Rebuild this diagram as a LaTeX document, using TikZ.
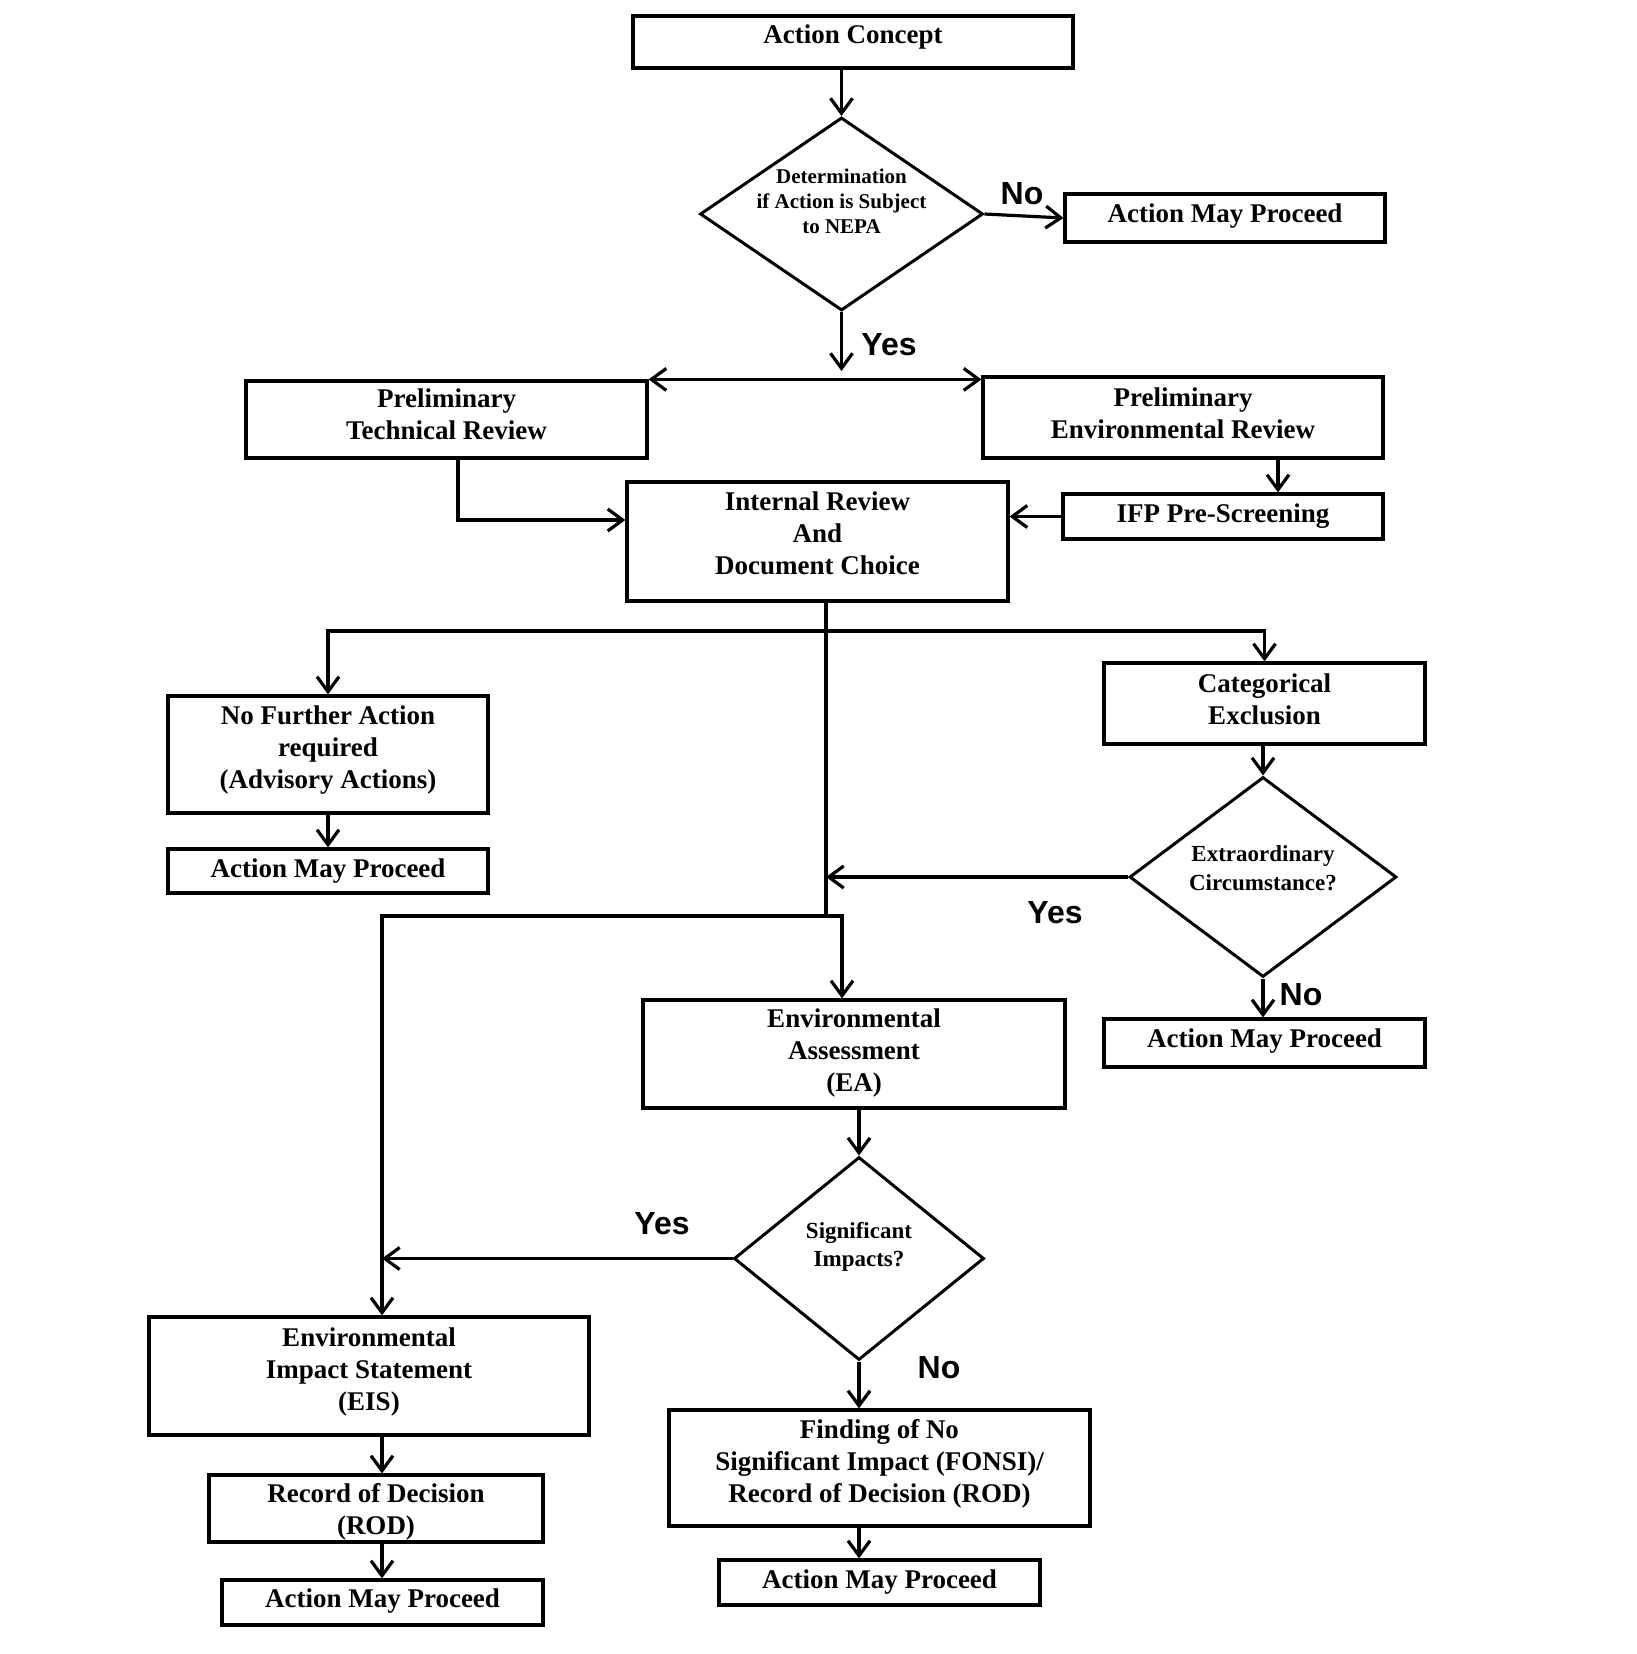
\documentclass[tikz,border=0pt]{standalone}
\usepackage{fontspec}
\setmainfont{Liberation Serif}
\newfontfamily\lsans{Liberation Sans}
\usetikzlibrary{arrows.meta,shapes.geometric}
\begin{document}
\begin{tikzpicture}[x=1pt,y=-1pt,
  line width=3.2pt,
  boxfont/.style={font=\bfseries\fontsize{27}{32}\selectfont},
  bx/.style={draw, inner sep=0pt, line width=3.2pt},
  txt/.style n args={3}{label={[name=#1, boxfont, align=center, yshift=#2]center:{#3}}},
  dia/.style={draw, diamond, inner sep=0pt, line width=3pt},
  lab/.style={font=\lsans\bfseries\fontsize{32}{36}\selectfont},
  arr/.style={-{Straight Barb[length=15pt,width=22pt]}},
  darr/.style={{Straight Barb[length=15pt,width=22pt]}-{Straight Barb[length=15pt,width=22pt]}}
]
\path[fill=white] (0,0) rectangle (1637,1654);
\useasboundingbox (0,0) rectangle (1637,1654);

% nodes
\node[bx, minimum width=440pt, minimum height=52pt, txt={act}{5pt}{Action Concept}] (ac) at (853,42) {};
\node[dia, minimum width=283pt, minimum height=193pt,
  label={[name=d1t, align=center, font=\bfseries\fontsize{21}{25}\selectfont, yshift=13pt]center:{Determination\\if Action is Subject\\to NEPA}}] (d1) at (841.5,214) {};
\node[bx, minimum width=320pt, minimum height=48pt, txt={amp1t}{2pt}{Action May Proceed}] (amp1) at (1225,218) {};
\node[bx, minimum width=401pt, minimum height=77pt, txt={ptrt}{5pt}{Preliminary\\Technical Review}] (ptr) at (446.5,419.5) {};
\node[bx, minimum width=400pt, minimum height=81pt, txt={pert}{4pt}{Preliminary\\Environmental Review}] (per) at (1183,417.5) {};
\node[bx, minimum width=320pt, minimum height=45pt, txt={ifpt}{0pt}{IFP Pre-Screening}] (ifp) at (1223,516.5) {};
\node[bx, minimum width=381pt, minimum height=119pt, txt={irt}{8pt}{Internal Review\\And\\Document Choice}] (ir) at (817.5,541.5) {};
\node[bx, minimum width=320pt, minimum height=117pt, txt={nfat}{4pt}{No Further Action\\required\\(Advisory Actions)}] (nfa) at (328,754.5) {};
\node[bx, minimum width=320pt, minimum height=44pt, txt={amp2t}{0pt}{Action May Proceed}] (amp2) at (328,871) {};
\node[bx, minimum width=321pt, minimum height=81pt, txt={cet}{4pt}{Categorical\\Exclusion}] (ce) at (1264.5,703.5) {};
\node[dia, minimum width=267pt, minimum height=200pt,
  label={[name=d2t, align=center, font=\bfseries\fontsize{23}{29}\selectfont, yshift=9pt]center:{Extraordinary\\Circumstance?}}] (d2) at (1263,877) {};
\node[bx, minimum width=321pt, minimum height=48pt, txt={amp3t}{2pt}{Action May Proceed}] (amp3) at (1264.5,1043) {};
\node[bx, minimum width=422pt, minimum height=108pt, txt={eat}{1pt}{Environmental\\Assessment\\(EA)}] (ea) at (854,1054) {};
\node[dia, minimum width=250pt, minimum height=203pt,
  label={[name=d3t, align=center, font=\bfseries\fontsize{23}{28}\selectfont, yshift=12pt]center:{Significant\\Impacts?}}] (d3) at (859,1258.5) {};
\node[bx, minimum width=421pt, minimum height=116pt, txt={fonsit}{4pt}{Finding of No\\Significant Impact (FONSI)/\\Record of Decision (ROD)}] (fonsi) at (879.5,1468) {};
\node[bx, minimum width=321pt, minimum height=45pt, txt={amp4t}{0pt}{Action May Proceed}] (amp4) at (879.5,1582.5) {};
\node[bx, minimum width=440pt, minimum height=118pt, txt={eist}{4pt}{Environmental\\Impact Statement\\(EIS)}] (eis) at (369,1376) {};
\node[bx, minimum width=334pt, minimum height=67pt, txt={rodt}{-3pt}{Record of Decision\\(ROD)}] (rod) at (376,1508.5) {};
\node[bx, minimum width=321pt, minimum height=45pt, txt={amp5t}{1pt}{Action May Proceed}] (amp5) at (382.5,1602.5) {};

% helper coordinates
\coordinate (ysplit) at (841.5,371);
\coordinate (cx1) at (1278,0);
\coordinate (tx) at (458,0);
\coordinate (jy) at (0,520);
\coordinate (mx) at (826,0);
\coordinate (h1) at (826,631);
\coordinate (j2) at (826,916);
\coordinate (ax) at (842,0);
\coordinate (bx) at (382,0);

% labels
\node[lab] (no1) at (1022,194) {No};
\node[lab] (yes1) at (889,345) {Yes};
\node[lab] (yes2) at (1055,913) {Yes};
\node[lab] (no2) at (1301,995) {No};
\node[lab] (yes3) at (662,1224) {Yes};
\node[lab] (no3) at (939,1368) {No};

% connectors
\draw[arr] (d1.north |- ac.south) -- (d1.north);
\draw[arr] (d1.east) -- (amp1.west);
\draw[arr] (d1.south) -- (ysplit);
\draw[darr] (ptr.north east) -- (ptr.north east -| per.west);
\draw[arr] (per.south -| cx1) -- (ifp.north -| cx1);
\draw[arr] (ifp.west) -- (ifp.west -| ir.east);
\draw[arr] (ptr.south -| tx) |- (ir.west |- jy);
\draw (ir.south -| mx) -- (j2);
\draw[darr] (nfa.north) |- (h1) -| (ce.north);
\draw[arr] (nfa.south) -- (amp2.north);
\draw[arr] (ce.south -| d2.north) -- (d2.north);
\draw[arr] (d2.west) -- (d2.west -| mx);
\draw[arr] (d2.south) -- (d2.south |- amp3.north);
\draw[darr] (eis.north -| bx) |- (j2) -| (ea.north -| ax);
\draw[arr] (d3.north |- ea.south) -- (d3.north);
\draw[arr] (d3.west) -- (d3.west -| bx);
\draw[arr] (d3.south) -- (d3.south |- fonsi.north);
\draw[arr] (d3.south |- fonsi.south) -- (d3.south |- amp4.north);
\draw[arr] (eis.south -| bx) -- (rod.north -| bx);
\draw[arr] (rod.south -| bx) -- (amp5.north -| bx);
\end{tikzpicture}
\end{document}
